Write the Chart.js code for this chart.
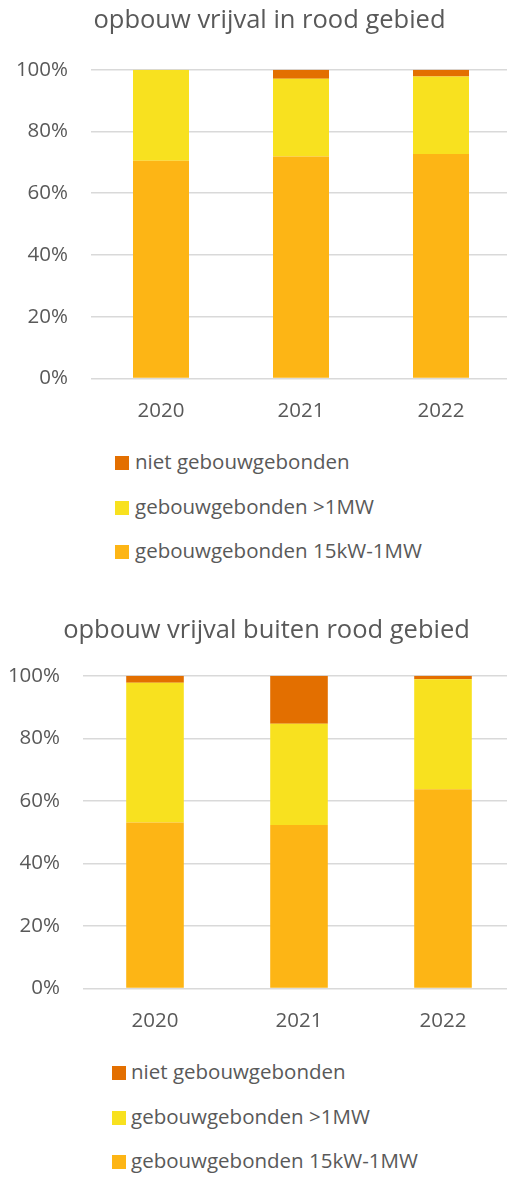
<!DOCTYPE html>
<html>
<head>
<meta charset="utf-8">
<script src="https://cdn.jsdelivr.net/npm/chart.js@4"></script>
<style>
  html, body { margin: 0; padding: 0; background: #fff; overflow: hidden; }
  body { width: 507px; height: 1178px; position: relative; font-family: "Open Sans", sans-serif; color: #595959; }
  .box { position: absolute; left: 0; }
  .legend { position: absolute; font-size: 20.5px; }
  .legend div { position: absolute; left: 0; white-space: nowrap; height: 24px; line-height: 24px; }
  .legend span { display: inline-block; width: 14px; height: 14px; vertical-align: -1px; }
</style>
</head>
<body>
<div class="box" style="top:0; width:539px; height:435px;"><canvas id="chartIn"></canvas></div>
<div class="legend" id="legendIn" style="left:115px; top:449px;"></div>
<div class="box" style="top:610px; width:533px; height:435px;"><canvas id="chartOut"></canvas></div>
<div class="legend" id="legendOut" style="left:112px; top:1059px;"></div>
<script>
const years   = ['2020', '2021', '2022'];
const series  = ['gebouwgebonden 15kW-1MW', 'gebouwgebonden >1MW', 'niet gebouwgebonden'];
const colors  = ['#FDB515', '#F8E11F', '#E36F00'];

// opbouw vrijval in rood gebied (%)
const inSmall = [70.5, 71.9, 72.7];
const inLarge = [29.5, 25.2, 25.1];
const inNiet  = [0, 2.9, 2.2];

// opbouw vrijval buiten rood gebied (%)
const outSmall = [53.1, 52.3, 63.7];
const outLarge = [44.7, 32.4, 35.2];
const outNiet  = [2.2, 15.3, 1.1];

const textColor = '#595959';
const fontFam   = '"Open Sans", sans-serif';

function makeChart(id, title, values, yWidth, rightWidth, titleGap) {
    return new Chart(document.getElementById(id), {
        type: 'bar',
        data: {
            labels: years,
            datasets: values.map((v, i) => ({
                label: series[i],
                data: v,
                backgroundColor: colors[i],
                borderWidth: 0,
                barPercentage: 0.4,
                categoryPercentage: 1
            }))
        },
        options: {
            responsive: true,
            maintainAspectRatio: false,
            animation: false,
            layout: { padding: 0 },
            plugins: {
                legend: { display: false },
                tooltip: { enabled: false },
                title: {
                    display: true,
                    text: title,
                    color: textColor,
                    font: { family: fontFam, size: 25.5, weight: 'normal' },
                    padding: { top: 5, bottom: titleGap }
                }
            },
            scales: {
                x: {
                    stacked: true,
                    grid: { display: false },
                    border: { display: false },
                    ticks: { color: textColor, font: { family: fontFam, size: 20.5 }, padding: 12 }
                },
                y: {
                    stacked: true,
                    min: 0,
                    max: 100,
                    afterFit: s => { s.width = yWidth; },
                    grid: { color: '#D9D9D9', lineWidth: 1.5, drawTicks: false },
                    border: { display: false },
                    ticks: {
                        stepSize: 20,
                        color: textColor,
                        font: { family: fontFam, size: 20.5 },
                        padding: 23,
                        callback: v => v + '%'
                    }
                },
                // empty right margin so the title centres like the original
                yRight: {
                    position: 'right',
                    grid: { display: false },
                    border: { display: false },
                    ticks: { display: false },
                    afterFit: s => { s.width = rightWidth; }
                }
            }
        }
    });
}

function makeLegend(id, gap) {
    const el = document.getElementById(id);
    const order = [2, 1, 0];
    order.forEach((k, row) => {
        const d = document.createElement('div');
        d.style.top = (row * 44.5) + 'px';
        const sq = document.createElement('span');
        sq.style.background = colors[k];
        sq.style.marginRight = gap + 'px';
        d.appendChild(sq);
        d.appendChild(document.createTextNode(series[k]));
        el.appendChild(d);
    });
}

makeChart('chartIn', 'opbouw vrijval in rood gebied', [inSmall, inLarge, inNiet], 91, 28, 34.2);
makeChart('chartOut', 'opbouw vrijval buiten rood gebied', [outSmall, outLarge, outNiet], 83, 18, 30.2);
makeLegend('legendIn', 6);
makeLegend('legendOut', 5);
</script>
</body>
</html>
